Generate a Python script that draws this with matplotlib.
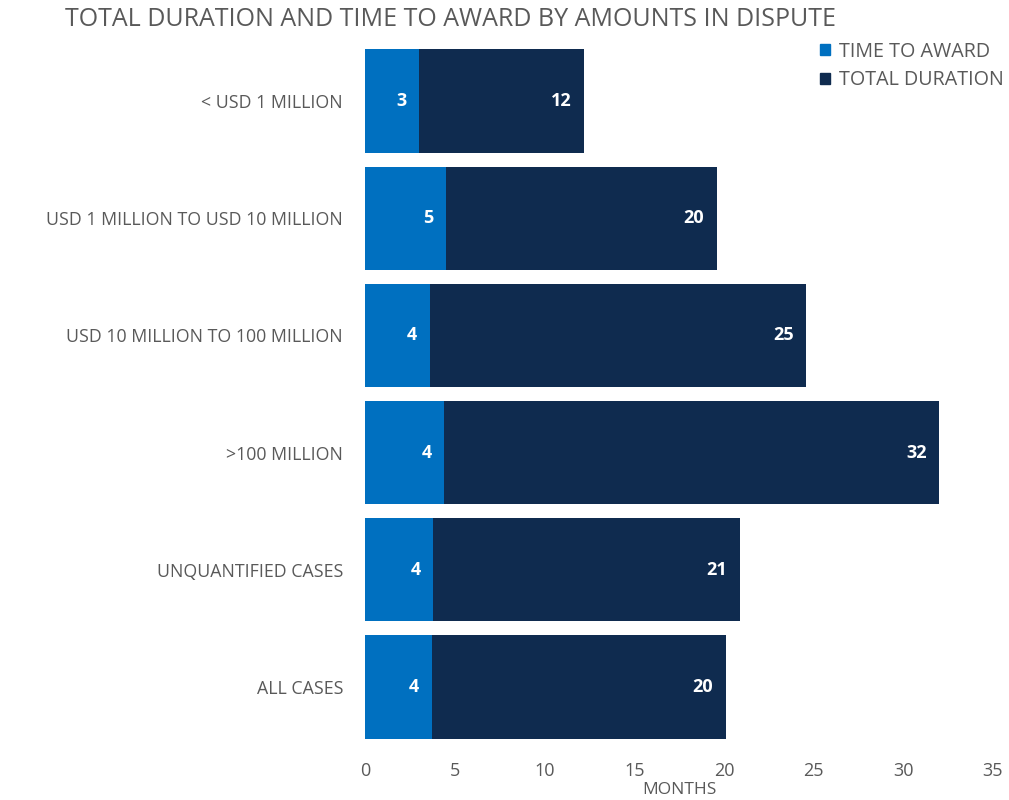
import matplotlib
matplotlib.use('Agg')
import matplotlib.pyplot as plt
from matplotlib.patches import Patch

categories = ['< USD 1 MILLION', 'USD 1 MILLION TO USD 10 MILLION',
              'USD 10 MILLION TO 100 MILLION', '>100 MILLION',
              'UNQUANTIFIED CASES', 'ALL CASES']
time_to_award = [3.0, 4.5, 3.6, 4.4, 3.8, 3.7]
total_duration = [12.2, 19.6, 24.6, 32.0, 20.9, 20.1]
award_labels = ['3', '5', '4', '4', '4', '4']
total_labels = ['12', '20', '25', '32', '21', '20']
x_ticks = [0, 5, 10, 15, 20, 25, 30, 35]

blue = '#0070C0'
navy = '#0F2B4F'
grey = '#595959'

plt.rcParams['font.family'] = ['Open Sans', 'DejaVu Sans']

fig = plt.figure(figsize=(10.09, 8), dpi=100)
ax = fig.add_axes([0.362, 0.068, 0.622, 0.879])

y = list(range(len(categories)))
ax.barh(y, total_duration, height=0.88, color=navy)
ax.barh(y, time_to_award, height=0.88, color=blue)

# value labels, white bold at the right end of each segment
for i in y:
    ax.annotate(award_labels[i], (time_to_award[i], i), xytext=(-9, 0),
                textcoords='offset points', ha='right', va='center',
                color='white', fontweight='bold', fontsize=13)
    ax.annotate(total_labels[i], (total_duration[i], i), xytext=(-9, 0),
                textcoords='offset points', ha='right', va='center',
                color='white', fontweight='bold', fontsize=13)

ax.set_ylim(len(categories) - 0.5, -0.5)
ax.set_xlim(0, 35)
ax.set_xticks(x_ticks)
ax.set_yticks(y)
ax.set_yticklabels(categories)
ax.tick_params(axis='y', length=0, pad=16, labelsize=12.8, labelcolor=grey)
ax.tick_params(axis='x', length=0, pad=12, labelsize=13, labelcolor=grey)
for s in ax.spines.values():
    s.set_visible(False)
ax.set_xlabel('MONTHS', color=grey, fontsize=12.5, labelpad=1)

fig.text(0.064, 0.976, 'TOTAL DURATION AND TIME TO AWARD BY AMOUNTS IN DISPUTE',
         fontsize=18, color=grey, va='center', ha='left')

handles = [Patch(color=blue, label='TIME TO AWARD'),
           Patch(color=navy, label='TOTAL DURATION')]
fig.legend(handles=handles, loc='upper left', bbox_to_anchor=(0.813, 0.948),
           frameon=False, fontsize=14.2, handlelength=0.5, handleheight=0.5,
           handletextpad=0.45, labelspacing=0.45, labelcolor=grey,
           borderaxespad=0, borderpad=0)

fig.savefig('out.png', dpi=100)
